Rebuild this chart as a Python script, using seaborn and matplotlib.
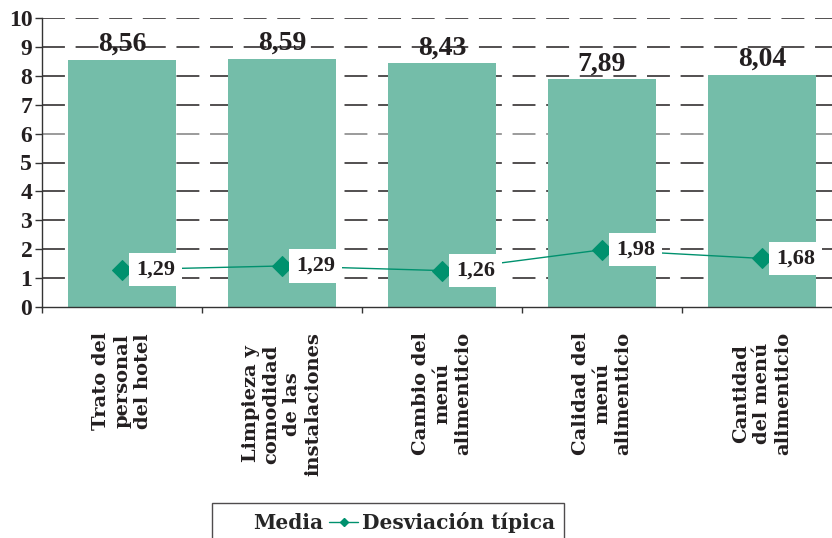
# ==============================================================
# 1. Librerías
# ==============================================================

import numpy as np
import matplotlib.pyplot as plt
import seaborn as sns
from matplotlib.patches import Patch
from matplotlib.lines import Line2D
from matplotlib.ticker import FixedLocator

sns.set_theme(style="white")
plt.rcParams['font.family'] = ['Liberation Serif', 'DejaVu Serif']
plt.rcParams['font.weight'] = 'bold'

# ==============================================================
# 2. Datos
# ==============================================================

categorias = ['Trato', 'Limpieza', 'Cambio', 'Calidad', 'Cantidad']
etiquetas_x = [
    'Trato del\npersonal\ndel hotel',
    'Limpieza y\ncomodidad\nde las\ninstalaciones',
    'Cambio del\nmenú\nalimenticio',
    'Calidad del\nmenú\nalimenticio',
    'Cantidad\ndel menú\nalimenticio',
]
media = [8.56, 8.59, 8.43, 7.89, 8.04]
etiquetas_media = ['8,56', '8,59', '8,43', '7,89', '8,04']
desviacion = [1.29, 1.42, 1.26, 1.98, 1.68]
etiquetas_desv = ['1,29', '1,29', '1,26', '1,98', '1,68']
niveles_y = list(range(0, 11))

color_barra = '#74BDA9'
color_linea = '#00916E'
color_texto = '#231F20'

# ==============================================================
# 3. Gráfico
# ==============================================================

fig = plt.figure(figsize=(8.32, 5.38), dpi=100)
ax = fig.add_axes([42 / 832, 1 - 307 / 538, 800 / 832, 289 / 538])

# líneas de cuadrícula (debajo de las barras)
for y in niveles_y[1:]:
    ax.axhline(y, color='#808080' if y == 6 else color_texto,
               linestyle=(0, (15, 7)), linewidth=1.1, zorder=0.5)

sns.barplot(x=categorias, y=media, color=color_barra, saturation=1,
            width=0.675, linewidth=0, ax=ax)
for p in ax.patches:
    p.set_zorder(2)

sns.pointplot(x=categorias, y=desviacion, color=color_linea, markers='D',
              linestyles='-', markersize=10, linewidth=1, ax=ax)
for l in ax.lines[len(niveles_y) - 1:]:
    l.set_zorder(4)

# etiquetas de las barras
ax.bar_label(ax.containers[0], labels=etiquetas_media, padding=2,
             fontsize=20, fontweight='bold', color=color_texto)

# etiquetas de la desviación
for i, (v, t) in enumerate(zip(desviacion, etiquetas_desv)):
    ax.annotate(t, (i, v), xytext=(10, 0), textcoords='offset points',
                ha='left', va='center', fontsize=16, fontweight='bold',
                color=color_texto, zorder=10,
                bbox=dict(boxstyle='square,pad=0.3', fc='white', ec='none'))

# ejes
ax.set_xlim(-0.5, 4.5)
ax.set_ylim(0, 10)
ax.set_yticks(niveles_y)
ax.set_xlabel('')
ax.set_ylabel('')
ax.set_xticks(range(len(categorias)))
ax.set_xticklabels(etiquetas_x, rotation=90, va='top', ha='center',
                   multialignment='center', fontsize=14, fontweight='bold',
                   color=color_texto, family=['DejaVu Serif'])
ax.xaxis.set_minor_locator(FixedLocator(np.arange(-0.5, 5, 1)))
ax.tick_params(axis='x', which='major', length=0, pad=18)
ax.tick_params(axis='x', which='minor', length=4, width=1, color='#333333',
               direction='out', bottom=True)
ax.tick_params(axis='y', length=5, width=1, color='#333333', pad=2,
               left=True, labelsize=17, labelcolor=color_texto)
for lab in ax.get_yticklabels():
    lab.set_fontweight('bold')

sns.despine(ax=ax, top=True, right=True)
for s in ['left', 'bottom']:
    ax.spines[s].set_color('#333333')
    ax.spines[s].set_linewidth(1)
    ax.spines[s].set_zorder(5)
ax.grid(False)

# leyenda
handles = [
    Patch(facecolor='none', edgecolor='none', label='Media'),
    Line2D([0], [0], color=color_linea, marker='D', markersize=4, lw=1,
           label='Desviación típica'),
]
leg = fig.legend(handles=handles, loc='upper left',
                 bbox_to_anchor=(212 / 832, 1 - 503 / 538), ncol=2,
                 frameon=True, fancybox=False, edgecolor='#231F20',
                 borderaxespad=0, handlelength=1.4, columnspacing=0.3,
                 handletextpad=0.2, borderpad=0.45,
                 prop={'size': 14.5, 'weight': 'bold', 'family': 'DejaVu Serif'})
leg.get_frame().set_linewidth(1)
leg.get_frame().set_boxstyle('square', pad=0)

fig.savefig('out.png', dpi=100)
